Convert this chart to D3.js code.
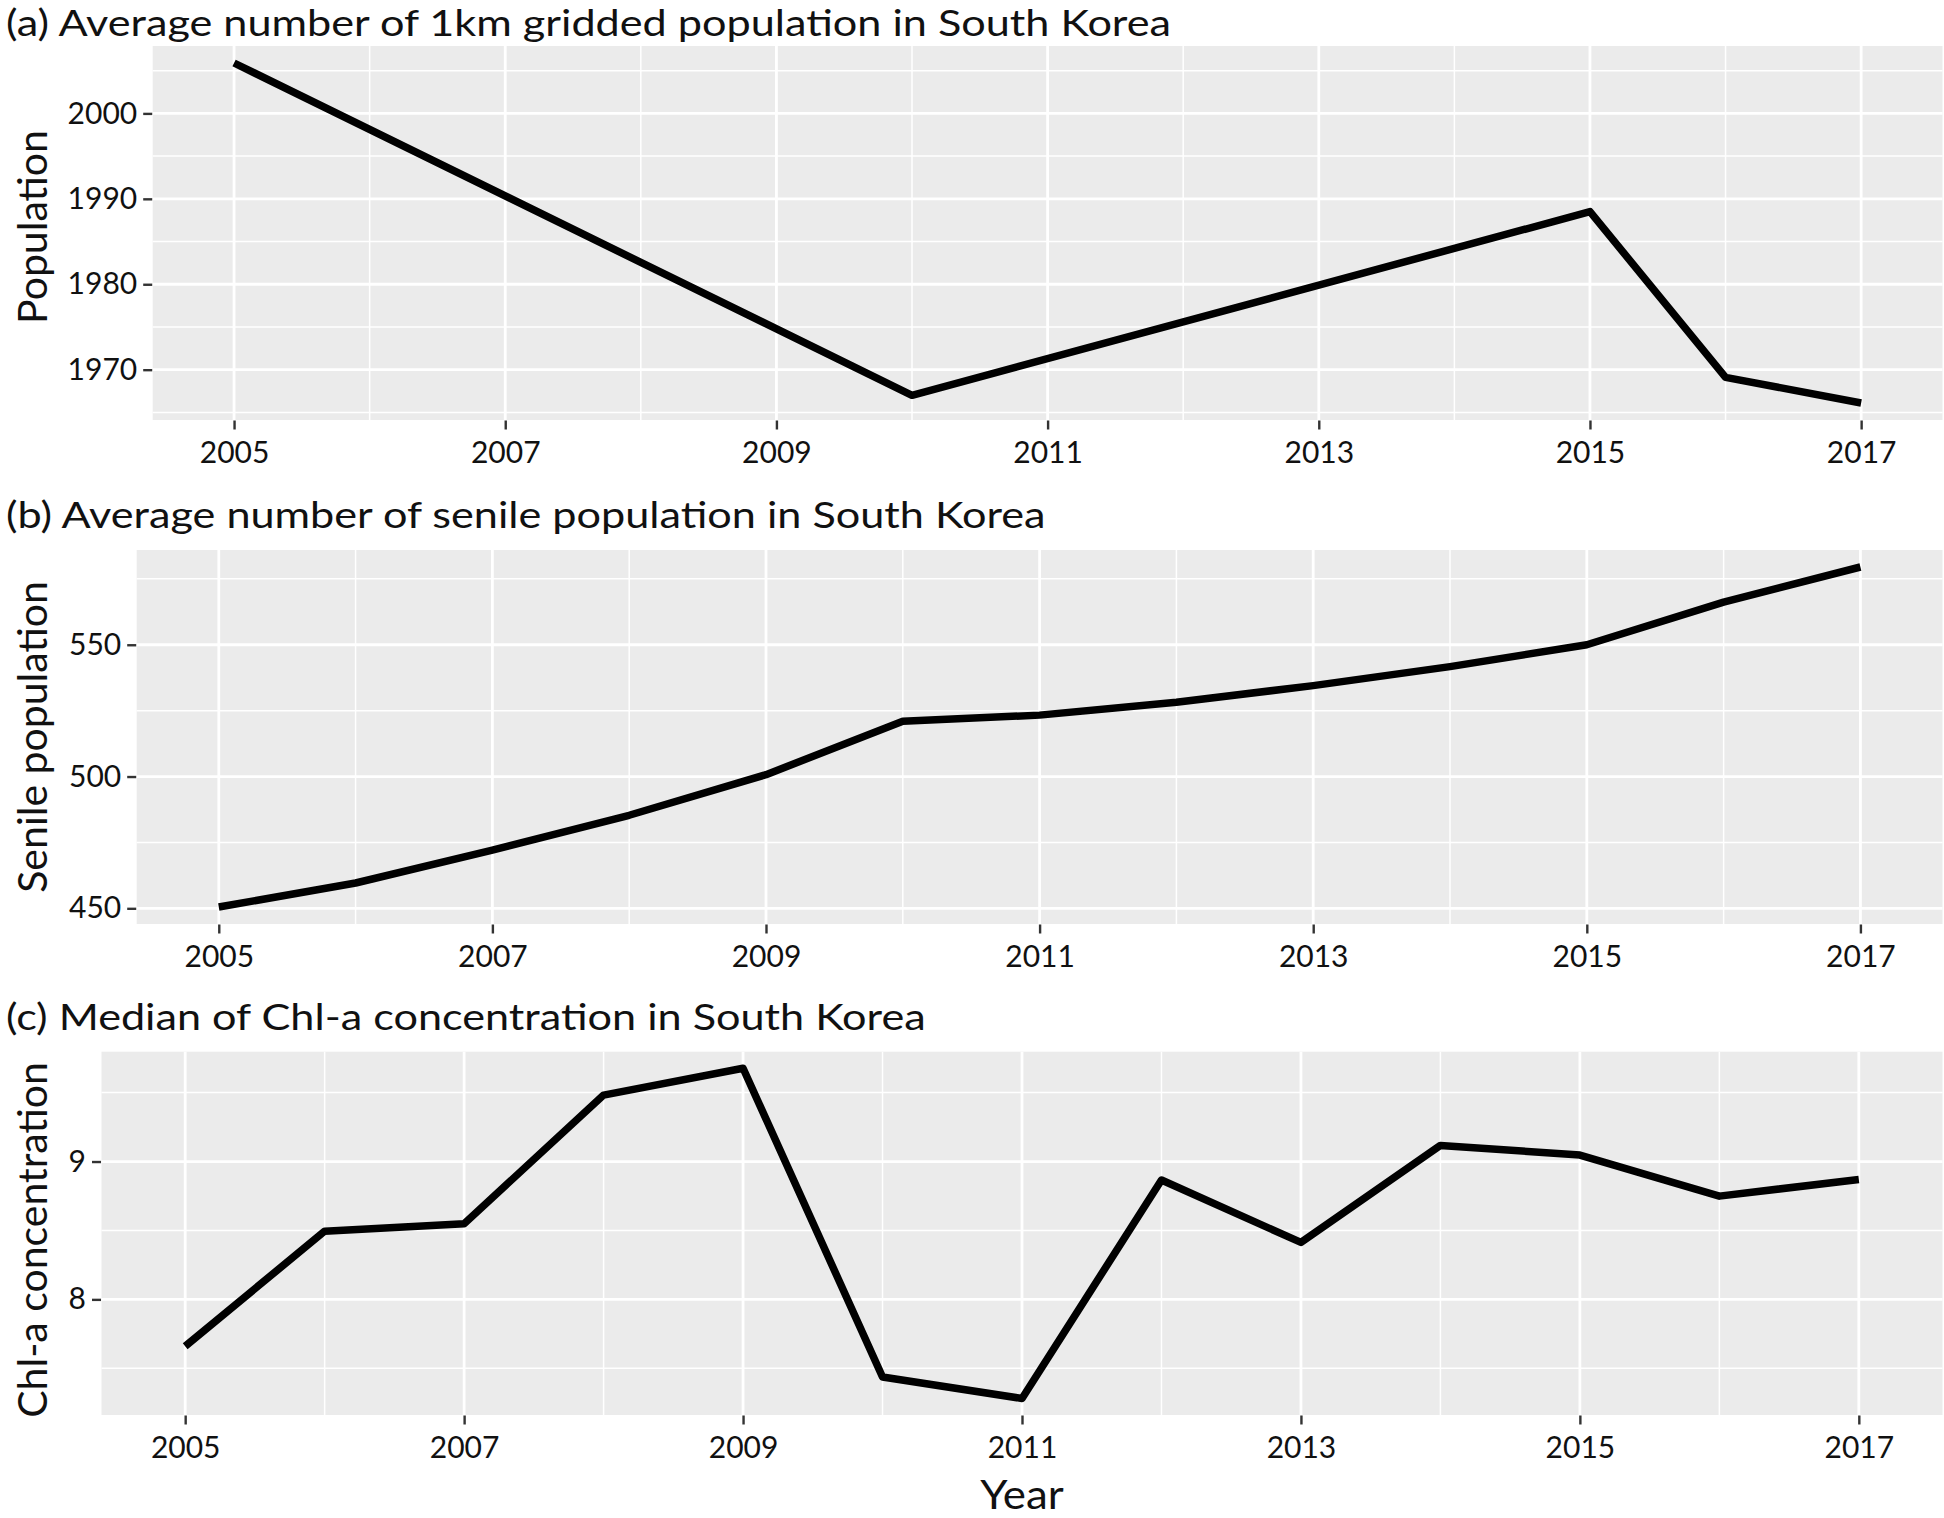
<!DOCTYPE html>
<html>
<head>
<meta charset="utf-8">
<script src="https://cdn.jsdelivr.net/npm/d3@7"></script>
<style>
  html, body { margin: 0; padding: 0; background: #fff; }
  svg { display: block; }
  text { font-family: Lato, "Open Sans", sans-serif; fill: #111; }
</style>
</head>
<body>
<svg id="chart" width="1944" height="1518"></svg>
<script>
// ---------- data ----------
const xTickYears = [2005, 2007, 2009, 2011, 2013, 2015, 2017];
const xMinorYears = [2006, 2008, 2010, 2012, 2014, 2016];

// (a) average 1km gridded population
const popYears = [2005, 2010, 2015, 2016, 2017];
const popValues = [2005.9, 1967.0, 1988.5, 1969.1, 1966.1];
const popTicks = [1970, 1980, 1990, 2000];
const popMinor = [1965, 1975, 1985, 1995, 2005];

// (b) average senile population
const seniorYears = [2005, 2006, 2007, 2008, 2009, 2010, 2011, 2012, 2013, 2014, 2015, 2016, 2017];
const seniorValues = [450.5, 459.6, 472.1, 485.3, 500.7, 521.0, 523.3, 528.2, 534.5, 541.7, 550.0, 566.2, 579.5];
const seniorTicks = [450, 500, 550];
const seniorMinor = [475, 525, 575];

// (c) median Chl-a concentration
const chlYears = [2005, 2006, 2007, 2008, 2009, 2010, 2011, 2012, 2013, 2014, 2015, 2016, 2017];
const chlValues = [7.66, 8.495, 8.549, 9.482, 9.677, 7.437, 7.281, 8.866, 8.413, 9.117, 9.047, 8.749, 8.870];
const chlTicks = [8, 9];
const chlMinor = [7.5, 8.5, 9.5];

const titles = [
  "(a) Average number of 1km gridded population in South Korea",
  "(b) Average number of senile population in South Korea",
  "(c) Median of Chl-a concentration in South Korea"
];
const yTitles = ["Population", "Senile population", "Chl-a concentration"];
const xTitle = "Year";

// ---------- layout ----------
const panels = [
  { years: popYears, values: popValues, ticks: popTicks, minor: popMinor,
    left: 152.7, right: 1942.5, top: 46, bottom: 420, titleY: 36, yTitleC: 227 },
  { years: seniorYears, values: seniorValues, ticks: seniorTicks, minor: seniorMinor,
    left: 136.7, right: 1942.5, top: 550, bottom: 924, titleY: 528, yTitleC: 737 },
  { years: chlYears, values: chlValues, ticks: chlTicks, minor: chlMinor,
    left: 101.5, right: 1942.5, top: 1051.7, bottom: 1415, titleY: 1030, yTitleC: 1240 }
];

const svg = d3.select("#chart");
const BG = "#EBEBEB";
const TITLE_SIZE = 36, TITLE_SX = 1.2, TICK_SIZE = 30, AXIS_TITLE_SIZE = 41, XTITLE_SX = 1.07;

function expand(lo, hi) {
  const r = hi - lo;
  return [lo - r * 0.05, hi + r * 0.05];
}

panels.forEach((p, i) => {
  const x = d3.scaleLinear().domain(expand(2005, 2017)).range([p.left, p.right]);
  const ext = d3.extent(p.values);
  const y = d3.scaleLinear().domain(expand(ext[0], ext[1])).range([p.bottom, p.top]);

  const g = svg.append("g");

  // panel background
  g.append("rect")
    .attr("x", p.left).attr("y", p.top)
    .attr("width", p.right - p.left).attr("height", p.bottom - p.top)
    .attr("fill", BG);

  // minor grid
  g.selectAll(".hminor").data(p.minor.filter(v => v >= y.domain()[0] && v <= y.domain()[1]))
    .join("line")
    .attr("x1", p.left).attr("x2", p.right)
    .attr("y1", d => y(d)).attr("y2", d => y(d))
    .attr("stroke", "#fff").attr("stroke-width", 1.5);
  g.selectAll(".vminor").data(xMinorYears).join("line")
    .attr("y1", p.top).attr("y2", p.bottom)
    .attr("x1", d => x(d)).attr("x2", d => x(d))
    .attr("stroke", "#fff").attr("stroke-width", 1.5);

  // major grid
  g.selectAll(".hmajor").data(p.ticks).join("line")
    .attr("x1", p.left).attr("x2", p.right)
    .attr("y1", d => y(d)).attr("y2", d => y(d))
    .attr("stroke", "#fff").attr("stroke-width", 2.8);
  g.selectAll(".vmajor").data(xTickYears).join("line")
    .attr("y1", p.top).attr("y2", p.bottom)
    .attr("x1", d => x(d)).attr("x2", d => x(d))
    .attr("stroke", "#fff").attr("stroke-width", 2.8);

  // data line
  const line = d3.line().x((d, k) => x(p.years[k])).y(d => y(d));
  g.append("path")
    .attr("d", line(p.values))
    .attr("fill", "none")
    .attr("stroke", "#000")
    .attr("stroke-width", 7.5)
    .attr("stroke-linejoin", "round")
    .attr("stroke-linecap", "butt");

  // axes
  const yAxis = d3.axisLeft(y).tickValues(p.ticks).tickSize(9).tickPadding(6).tickFormat(d3.format("d"));
  const ya = g.append("g").attr("transform", `translate(${p.left - 0.5},0)`).call(yAxis);
  ya.select(".domain").remove();
  ya.selectAll(".tick line").attr("stroke", "#333").attr("stroke-width", 2.4);
  ya.selectAll(".tick text").attr("font-size", TICK_SIZE).attr("fill", "#111")
    .attr("font-family", "Lato, 'Open Sans', sans-serif");

  const xAxis = d3.axisBottom(x).tickValues(xTickYears).tickSize(9).tickPadding(12).tickFormat(d3.format("d"));
  const xa = g.append("g").attr("transform", `translate(0,${p.bottom + 0.5})`).call(xAxis);
  xa.select(".domain").remove();
  xa.selectAll(".tick line").attr("stroke", "#333").attr("stroke-width", 2.4);
  xa.selectAll(".tick text").attr("font-size", TICK_SIZE).attr("fill", "#111")
    .attr("font-family", "Lato, 'Open Sans', sans-serif");

  // title
  g.append("text")
    .attr("transform", `translate(6,${p.titleY}) scale(${TITLE_SX},1)`)
    .attr("font-size", TITLE_SIZE)
    .text(titles[i]);

  // y-axis title
  g.append("text")
    .attr("transform", `translate(47,${p.yTitleC}) rotate(-90)`)
    .attr("text-anchor", "middle")
    .attr("font-size", AXIS_TITLE_SIZE)
    .text(yTitles[i]);

  if (i === 2) {
    svg.append("text")
      .attr("transform", `translate(${(p.left + p.right) / 2},1509) scale(${XTITLE_SX},1)`)
      .attr("text-anchor", "middle")
      .attr("font-size", AXIS_TITLE_SIZE)
      .text(xTitle);
  }
});
</script>
</body>
</html>
